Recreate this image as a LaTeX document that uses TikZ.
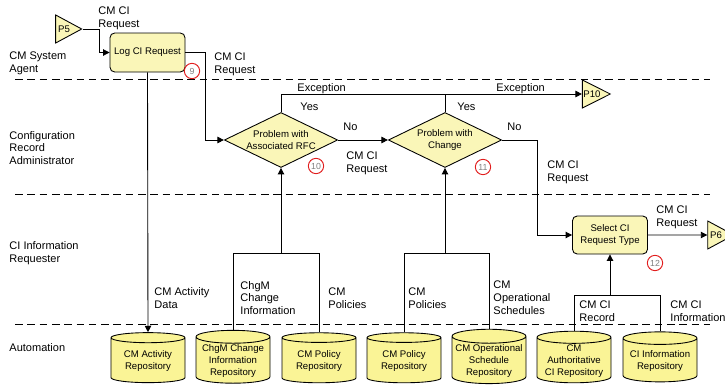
\documentclass[tikz,border=0pt]{standalone}
\usepackage{fontspec}
\setmainfont{Liberation Sans}
\usetikzlibrary{arrows.meta,shapes.geometric}
\definecolor{taskfill}{RGB}{250,246,184}
\definecolor{repofill}{RGB}{250,244,150}
\definecolor{stepred}{RGB}{225,30,30}
\tikzset{
  lanemap/.style={x=0.03cm,y=-0.03cm,>={Triangle[length=5.5pt,width=5.5pt]},line width=0.75pt},
  lanetext/.style={font=\fontsize{9.4}{11}\selectfont,align=left,anchor=west,inner sep=0pt},
  flowtext/.style={lanetext},
  task/.style={draw,rounded corners=4pt,fill=taskfill,align=center,font=\fontsize{8.2}{10}\selectfont,
    minimum width=2.25cm,minimum height=1.17cm},
  decision/.style={diamond,draw,fill=taskfill,align=center,font=\fontsize{8.2}{10}\selectfont,
    inner sep=0pt,aspect=2,minimum width=3.4cm,minimum height=1.65cm},
  repo/.style={cylinder,shape border rotate=90,draw,fill=repofill,align=center,aspect=0.2,
    font=\fontsize{8.2}{10}\selectfont,minimum width=2.22cm,minimum height=1.5cm,inner sep=1pt},
  offpage/.style={isosceles triangle,isosceles triangle stretches,draw,fill=taskfill,
    font=\fontsize{8.2}{10}\selectfont,inner sep=0.5pt,minimum width=0.84cm,minimum height=0.78cm},
  stepnum/.style={circle,draw=stepred,line width=0.8pt,inner sep=0pt,minimum size=0.46cm,
    text=gray,font=\fontsize{7.5}{7.5}\selectfont},
  flow/.style={->},
  laneline/.style={dashed,dash pattern=on 6.5pt off 4pt},
}
\begin{document}
\begin{tikzpicture}[lanemap]
\useasboundingbox (0,0) rectangle (725,388);
% swimlanes
\foreach \y in {79,194,324} {
  \draw[laneline] (15,\y) -- (710,\y);
}
\node[lanetext] (l1) at (9,63) {CM System\\Agent};
\node[lanetext] (l2) at (9,148) {Configuration\\Record\\Administrator};
\node[lanetext] (l3) at (9,253) {CI Information\\Requester};
\node[lanetext] (l4) at (9,348) {Automation};

% process steps
\node[offpage] (p5) at (64,29) {P5};
\node[task] (log) at (147.5,52.5) {Log CI Request};
\node[decision] (d1) at (281,140) {Problem with\\Associated RFC};
\node[decision] (d2) at (445,140) {Problem with\\Change};
\node[offpage] (p10) at (592,94) {P10};
\node[task,minimum height=1.14cm] (sel) at (610,235) {Select CI\\Request Type};
\node[offpage] (p6) at (716,235) {P6};

\node[stepnum] (n9) at (192,71) {9};
\node[stepnum] (n10) at (316,166) {10};
\node[stepnum] (n11) at (483,167) {11};
\node[stepnum] (n12) at (655,263) {12};

% repositories
\node[repo] (r1) at (148,361) {CM Activity\\Repository};
\node[repo] (r2) at (233,361) {ChgM Change\\Information\\Repository};
\node[repo] (r3) at (319,361) {CM Policy\\Repository};
\node[repo] (r4) at (404,361) {CM Policy\\Repository};
\node[repo] (r5) at (489,361) {CM Operational\\Schedule\\Repository};
\node[repo] (r6) at (574,361) {CM\\Authoritative\\CI Repository};
\node[repo] (r7) at (660,361) {CI Information\\Repository};

% connectors
\draw[flow] (p5.apex) -- ++(17,0) |- (log.west);
\draw[flow] (log.east) -- ++(20,0) |- (d1.west);
\draw[flow] (log.south) -- (r1.north);
\draw[flow] (d1.east) -- (d2.west);
\draw (d1.north) |- (d2.north |- p10.west);
\draw[flow] (d2.north) |- (p10.west);
\draw[flow] (d2.east) -- ++(35,0) |- (sel.west);
\draw[flow] (sel.east) -- (p6.west);

\path (d1.south) ++(0,85) coordinate (j1);
\path (d2.south) ++(0,85) coordinate (j2);
\path (sel.south) ++(0,41) coordinate (j3);
\draw (r2.north) |- (j1) -| (r3.north);
\draw[flow] (j1) -- (d1.south);
\draw (r4.north) |- (j2) -| (r5.north);
\draw[flow] (j2) -- (d2.south);
\draw (r6.north) |- (j3) -| (r7.north);
\draw[flow] (j3) -- (sel.south);

% connector labels
\node[flowtext] (t1) at (98,18) {CM CI\\Request};
\node[flowtext] (t2) at (214,64) {CM CI\\Request};
\node[flowtext] (t3) at (297,89) {Exception};
\node[flowtext] (t4) at (496,89) {Exception};
\node[flowtext] (t5) at (300,107) {Yes};
\node[flowtext] (t6) at (457,107) {Yes};
\node[flowtext] (t7) at (343,127) {No};
\node[flowtext] (t8) at (507,127) {No};
\node[flowtext] (t9) at (346,163) {CM CI\\Request};
\node[flowtext] (t10) at (547,172) {CM CI\\Request};
\node[flowtext] (t11) at (656,217) {CM CI\\Request};
\node[flowtext] (t12) at (154,298) {CM Activity\\Data};
\node[flowtext] (t13) at (240,298) {ChgM\\Change\\Information};
\node[flowtext] (t14) at (328,298) {CM\\Policies};
\node[flowtext] (t15) at (408,298) {CM\\Policies};
\node[flowtext] (t16) at (493,298) {CM\\Operational\\Schedules};
\node[flowtext] (t17) at (579,311) {CM CI\\Record};
\node[flowtext] (t18) at (670,311) {CM CI\\Information};
\end{tikzpicture}
\end{document}
